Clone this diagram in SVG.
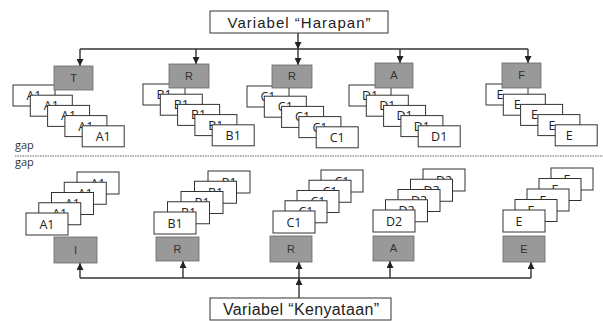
<svg xmlns="http://www.w3.org/2000/svg" width="603" height="321" viewBox="0 0 603 321">
<defs>
<style>
.bg{fill:#ffffff}
.box{fill:#ffffff;stroke:#333;stroke-width:1}
.card{fill:#ffffff;stroke:#333;stroke-width:1}
.grey{fill:#999999;stroke:#666;stroke-width:0.8}
.ttl{font-family:"Liberation Sans",Arial,sans-serif;fill:#222;text-anchor:middle}
.lbl{font-family:"Open Sans","Liberation Sans",sans-serif;font-size:12.5px;fill:#222;text-anchor:middle}
.gl{font-family:"Liberation Sans",Arial,sans-serif;font-size:11px;fill:#333;text-anchor:middle}
.gap{font-family:"Open Sans","Liberation Sans",sans-serif;font-size:11px;fill:#333}
.ln{fill:none;stroke:#333;stroke-width:1.4}
.sep{fill:none;stroke:#9a9a9a;stroke-width:1.5;stroke-dasharray:1.5 1}
</style>
<marker id="ah" viewBox="0 0 10 10" refX="10" refY="5" markerWidth="7" markerHeight="7" markerUnits="userSpaceOnUse" orient="auto">
<path d="M0,0 L10,5 L0,10 z" fill="#222"/>
</marker>
</defs>
<rect class="bg" x="0" y="0" width="603" height="321"/>

<g id="harapan"><rect class="box" x="210" y="11" width="178" height="22"/><text class="ttl" x="299" y="28" font-size="15" textLength="143" lengthAdjust="spacing">Variabel “Harapan”</text></g>
<g id="kenyataan"><rect class="box" x="210" y="298" width="181" height="22"/><text class="ttl" x="301" y="315" font-size="16" textLength="156" lengthAdjust="spacing">Variabel “Kenyataan”</text></g>

<line class="sep" x1="15" y1="156" x2="603" y2="156"/>
<text class="gap" x="15" y="149">gap</text>
<text class="gap" x="15" y="166">gap</text>

<g id="connectors">
<line class="ln" x1="298" y1="33" x2="298" y2="49" marker-end="url(#ah)"/>
<line class="ln" x1="80" y1="49" x2="528" y2="49"/>
<line class="ln" x1="80" y1="49" x2="80" y2="66" marker-end="url(#ah)"/>
<line class="ln" x1="196" y1="49" x2="196" y2="64" marker-end="url(#ah)"/>
<line class="ln" x1="298" y1="49" x2="298" y2="65" marker-end="url(#ah)"/>
<line class="ln" x1="400" y1="49" x2="400" y2="63" marker-end="url(#ah)"/>
<line class="ln" x1="528" y1="49" x2="528" y2="63" marker-end="url(#ah)"/>
<line class="ln" x1="299" y1="298" x2="299" y2="278" marker-end="url(#ah)"/>
<line class="ln" x1="80" y1="278" x2="531" y2="278"/>
<line class="ln" x1="80" y1="278" x2="80" y2="263" marker-end="url(#ah)"/>
<line class="ln" x1="183" y1="278" x2="183" y2="261" marker-end="url(#ah)"/>
<line class="ln" x1="299" y1="278" x2="299" y2="262" marker-end="url(#ah)"/>
<line class="ln" x1="390" y1="278" x2="390" y2="261" marker-end="url(#ah)"/>
<line class="ln" x1="531" y1="278" x2="531" y2="262" marker-end="url(#ah)"/>
</g>

<g id="topA">
<g id="tA1"><rect class="card" x="13" y="85" width="42" height="21"/><text class="lbl" x="34" y="100">A1</text></g>
<g id="tA2"><rect class="card" x="30.3" y="95.2" width="42" height="21"/><text class="lbl" x="51.3" y="110.2">A1</text></g>
<g id="tA3"><rect class="card" x="47.6" y="105.4" width="42" height="21"/><text class="lbl" x="68.6" y="120.4">A1</text></g>
<g id="tA4"><rect class="card" x="64.9" y="115.6" width="42" height="21"/><text class="lbl" x="85.9" y="130.6">A1</text></g>
<g id="tA5"><rect class="card" x="82.2" y="125.8" width="42" height="21"/><text class="lbl" x="103.2" y="140.8">A1</text></g>
</g>
<g id="topB">
<g id="tB1"><rect class="card" x="143" y="84" width="42" height="21"/><text class="lbl" x="164" y="99">B1</text></g>
<g id="tB2"><rect class="card" x="160.3" y="94.2" width="42" height="21"/><text class="lbl" x="181.3" y="109.2">B1</text></g>
<g id="tB3"><rect class="card" x="177.6" y="104.4" width="42" height="21"/><text class="lbl" x="198.6" y="119.4">B1</text></g>
<g id="tB4"><rect class="card" x="194.9" y="114.6" width="42" height="21"/><text class="lbl" x="215.9" y="129.6">B1</text></g>
<g id="tB5"><rect class="card" x="212.2" y="124.8" width="42" height="21"/><text class="lbl" x="233.2" y="139.8">B1</text></g>
</g>
<g id="topC">
<g id="tC1"><rect class="card" x="247" y="86" width="42" height="21"/><text class="lbl" x="268" y="101">C1</text></g>
<g id="tC2"><rect class="card" x="264.3" y="96.2" width="42" height="21"/><text class="lbl" x="285.3" y="111.2">C1</text></g>
<g id="tC3"><rect class="card" x="281.6" y="106.4" width="42" height="21"/><text class="lbl" x="302.6" y="121.4">C1</text></g>
<g id="tC4"><rect class="card" x="298.9" y="116.6" width="42" height="21"/><text class="lbl" x="319.9" y="131.6">C1</text></g>
<g id="tC5"><rect class="card" x="316.2" y="126.8" width="42" height="21"/><text class="lbl" x="337.2" y="141.8">C1</text></g>
</g>
<g id="topD">
<g id="tD1"><rect class="card" x="349" y="85" width="42" height="21"/><text class="lbl" x="370" y="100">D1</text></g>
<g id="tD2"><rect class="card" x="366.3" y="95.2" width="42" height="21"/><text class="lbl" x="387.3" y="110.2">D1</text></g>
<g id="tD3"><rect class="card" x="383.6" y="105.4" width="42" height="21"/><text class="lbl" x="404.6" y="120.4">D1</text></g>
<g id="tD4"><rect class="card" x="400.9" y="115.6" width="42" height="21"/><text class="lbl" x="421.9" y="130.6">D1</text></g>
<g id="tD5"><rect class="card" x="418.2" y="125.8" width="42" height="21"/><text class="lbl" x="439.2" y="140.8">D1</text></g>
</g>
<g id="topE">
<g id="tE1"><rect class="card" x="486" y="84" width="42" height="21"/><text class="lbl" x="500" y="99">E</text></g>
<g id="tE2"><rect class="card" x="503.3" y="94.2" width="42" height="21"/><text class="lbl" x="517.3" y="109.2">E</text></g>
<g id="tE3"><rect class="card" x="520.6" y="104.4" width="42" height="21"/><text class="lbl" x="534.6" y="119.4">E</text></g>
<g id="tE4"><rect class="card" x="537.9" y="114.6" width="42" height="21"/><text class="lbl" x="551.9" y="129.6">E</text></g>
<g id="tE5"><rect class="card" x="555.2" y="124.8" width="42" height="21"/><text class="lbl" x="569.2" y="139.8">E</text></g>
</g>

<g id="gT"><rect class="grey" x="54" y="66" width="39" height="24"/><text class="gl" x="73.5" y="82">T</text></g>
<g id="gR1"><rect class="grey" x="169" y="64" width="40" height="24"/><text class="gl" x="189" y="80">R</text></g>
<g id="gR2"><rect class="grey" x="272" y="65" width="40" height="23"/><text class="gl" x="292" y="80">R</text></g>
<g id="gA"><rect class="grey" x="375" y="63" width="38" height="25"/><text class="gl" x="394" y="79">A</text></g>
<g id="gF"><rect class="grey" x="502" y="63" width="39" height="25"/><text class="gl" x="521.5" y="79">F</text></g>

<g id="botA">
<g id="bA5"><rect class="card" x="77" y="172" width="42" height="22"/><text class="lbl" x="98" y="187.5">A1</text></g>
<g id="bA4"><rect class="card" x="64.25" y="182.25" width="42" height="22"/><text class="lbl" x="85.25" y="197.75">A1</text></g>
<g id="bA3"><rect class="card" x="51.5" y="192.5" width="42" height="22"/><text class="lbl" x="72.5" y="208">A1</text></g>
<g id="bA2"><rect class="card" x="38.75" y="202.75" width="42" height="22"/><text class="lbl" x="59.75" y="218.25">A1</text></g>
<g id="bA1"><rect class="card" x="26" y="213" width="42" height="22"/><text class="lbl" x="47" y="228.5">A1</text></g>
</g>
<g id="botB">
<g id="bB5"><rect class="card" x="208" y="171" width="42" height="22"/><text class="lbl" x="229" y="186.5">B1</text></g>
<g id="bB4"><rect class="card" x="194.5" y="181.25" width="42" height="22"/><text class="lbl" x="215.5" y="196.75">B1</text></g>
<g id="bB3"><rect class="card" x="181" y="191.5" width="42" height="22"/><text class="lbl" x="202" y="207">B1</text></g>
<g id="bB2"><rect class="card" x="167.5" y="201.75" width="42" height="22"/><text class="lbl" x="188.5" y="217.25">B1</text></g>
<g id="bB1"><rect class="card" x="154" y="212" width="42" height="22"/><text class="lbl" x="175" y="227.5">B1</text></g>
</g>
<g id="botC">
<g id="bC5"><rect class="card" x="321" y="170" width="42" height="22"/><text class="lbl" x="342" y="185.5">C1</text></g>
<g id="bC4"><rect class="card" x="309" y="180.25" width="42" height="22"/><text class="lbl" x="330" y="195.75">C1</text></g>
<g id="bC3"><rect class="card" x="297" y="190.5" width="42" height="22"/><text class="lbl" x="318" y="206">C1</text></g>
<g id="bC2"><rect class="card" x="285" y="200.75" width="42" height="22"/><text class="lbl" x="306" y="216.25">C1</text></g>
<g id="bC1"><rect class="card" x="273" y="211" width="42" height="22"/><text class="lbl" x="294" y="226.5">C1</text></g>
</g>
<g id="botD">
<g id="bD5"><rect class="card" x="423" y="169" width="42" height="22"/><text class="lbl" x="444" y="184.5">D2</text></g>
<g id="bD4"><rect class="card" x="410.5" y="179.25" width="42" height="22"/><text class="lbl" x="431.5" y="194.75">D2</text></g>
<g id="bD3"><rect class="card" x="398" y="189.5" width="42" height="22"/><text class="lbl" x="419" y="205">D2</text></g>
<g id="bD2"><rect class="card" x="385.5" y="199.75" width="42" height="22"/><text class="lbl" x="406.5" y="215.25">D2</text></g>
<g id="bD1"><rect class="card" x="373" y="210" width="42" height="22"/><text class="lbl" x="394" y="225.5">D2</text></g>
</g>
<g id="botE">
<g id="bE5"><rect class="card" x="551" y="168" width="42" height="22"/><text class="lbl" x="567" y="183.5">E</text></g>
<g id="bE4"><rect class="card" x="539" y="178.5" width="42" height="22"/><text class="lbl" x="555" y="194">E</text></g>
<g id="bE3"><rect class="card" x="527" y="189" width="42" height="22"/><text class="lbl" x="543" y="204.5">E</text></g>
<g id="bE2"><rect class="card" x="515" y="199.5" width="42" height="22"/><text class="lbl" x="531" y="215">E</text></g>
<g id="bE1"><rect class="card" x="503" y="210" width="42" height="22"/><text class="lbl" x="519" y="225.5">E</text></g>
</g>

<g id="gbI"><rect class="grey" x="54" y="237" width="43" height="26"/><text class="gl" x="75.5" y="254">I</text></g>
<g id="gbR1"><rect class="grey" x="156" y="237" width="43" height="24"/><text class="gl" x="177.5" y="253">R</text></g>
<g id="gbR2"><rect class="grey" x="270" y="236" width="42" height="26"/><text class="gl" x="291" y="253">R</text></g>
<g id="gbA"><rect class="grey" x="373" y="236" width="41" height="25"/><text class="gl" x="393.5" y="252">A</text></g>
<g id="gbE"><rect class="grey" x="503" y="236" width="42" height="26"/><text class="gl" x="524" y="253">E</text></g>
</svg>
